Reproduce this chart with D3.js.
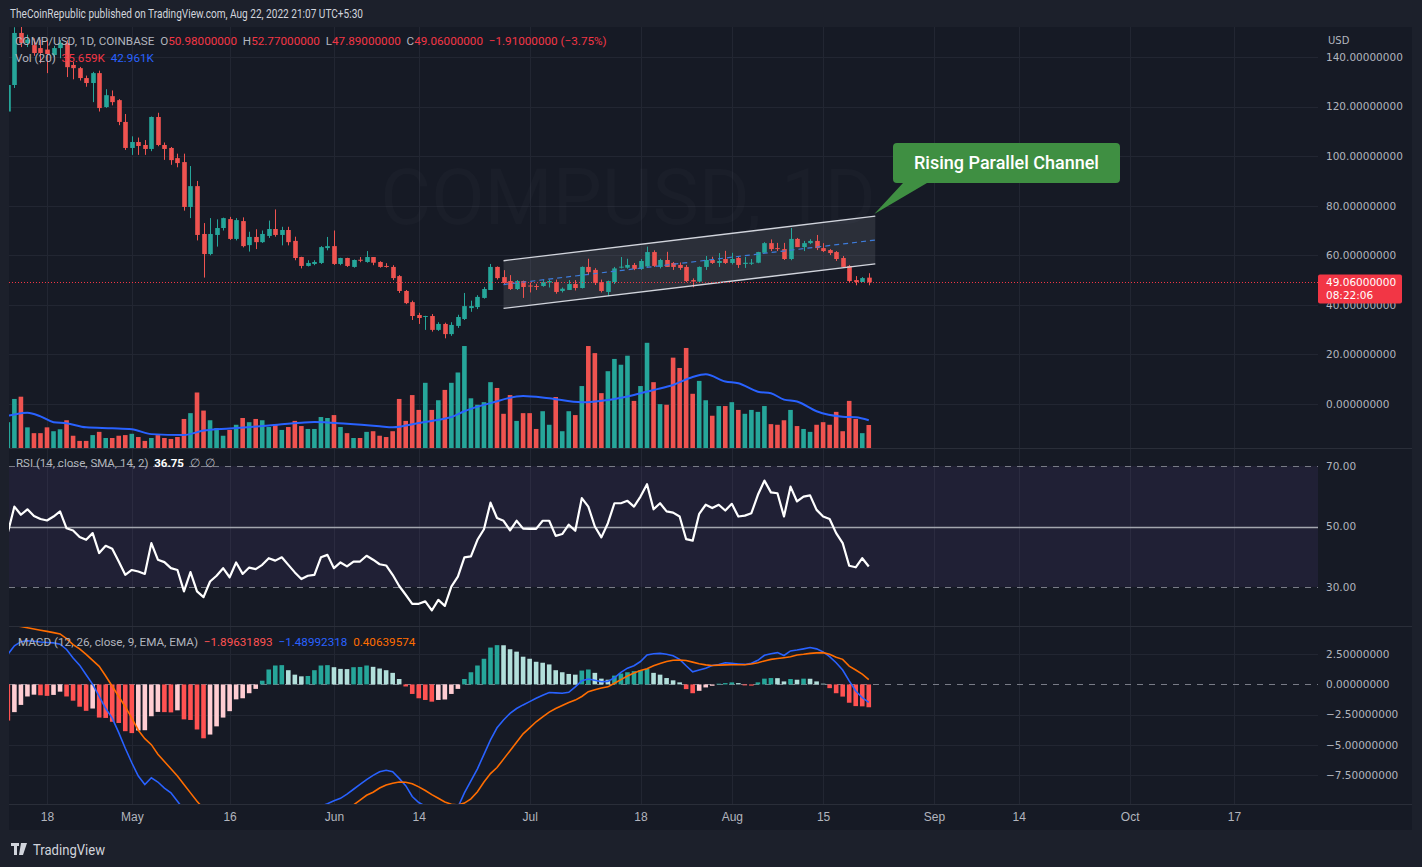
<!DOCTYPE html>
<html><head><meta charset="utf-8"><title>COMP/USD</title>
<script src="https://cdn.jsdelivr.net/npm/d3@7/dist/d3.min.js"></script>
<style>
html,body{margin:0;padding:0;background:#1c202b;overflow:hidden}
svg{display:block}
</style></head><body>
<svg id="chart" width="1422" height="867"></svg>
<script>
// ---------------- DATA ----------------
// daily candles, first = 2022-04-12
const firstDay = "2022-04-12";
const opens = [118,128.7,149.7,145.6,144.8,143.6,143,140.8,143.6,145.6,136.8,135.5,131.5,129.5,133.5,119.8,124.2,122.6,113.8,103.3,105.7,104.5,102.9,115.8,104.5,103.3,99.2,97.6,79.5,87.9,68.6,60.5,68.2,71.0,74.6,66.6,73.8,64.1,67.4,65.3,67.8,70.6,68.2,70.2,65.8,59.3,55.7,56.5,56.9,62.9,63.7,56.5,58.9,55.3,58.2,57.3,59.3,57.3,55.7,55.3,51.6,45.6,41.1,35.9,35.3,35.5,29.9,32.3,28.2,31.5,34.3,38.7,39.1,42.8,46.0,55.3,51.2,49.6,46.4,49.6,47.8,47.6,47.6,49.0,49.2,45.6,46.0,48.4,46.8,55.3,54.1,49.2,45.2,49.2,55.2,55.0,56.1,54.5,55.5,61.3,55.3,58.1,56.9,56.1,55.3,50.0,49.4,55.3,58.1,56.9,58.5,56.9,58.9,56.5,56.6,57.0,61.0,64.9,62.9,62.5,58.5,66.6,63.3,64.9,65.8,62.9,62.1,61.3,58.9,55.7,50.0,49.2,50.98];
const highs = [129.5,152,152.5,149,147.5,147,146.8,144.5,146.8,146.8,138,136,132.5,134,134.5,127,126.5,123,117,108,107.5,106.5,116,117.5,105.5,103.7,101,101,96,90,73,75,74.5,75.2,75.5,75,75.3,69.5,70.5,70,74,78.5,71.5,71.5,67.5,59.4,58,58,63.7,67.4,70,59,59,58.3,59.3,61.7,59.3,57.6,56.8,56,52,46,41.7,36.8,35.6,36.3,33,32.8,33,36,44.8,41.7,43.9,47.2,56.5,55.5,54,52,50,49.8,49,48.5,50,50.2,50.2,47,50,50,55.5,58.6,54.8,50.2,49.8,55.3,59.3,58.6,56.9,58.5,63.5,62,58.6,61.4,57.3,57.1,56.1,50.7,55.5,59.7,59.4,60.9,61.8,61,59.3,59.3,58.5,61.4,65.3,66.4,65,65,71,67,65.8,66.5,68.2,64.9,62.5,61.7,59.7,56.1,51.6,51.2,52.77];
const lows = [117,127.5,144,144,140.5,137.5,133.5,140,139.5,131.9,131,130.5,128,121.8,118,119.5,120.5,112.5,102.5,100.5,100.5,100.5,102,104,98.5,96.5,95.5,78,75,66,51,60,63.5,70,66.2,66,63.2,61.5,62.5,65,67,67.5,64,64,58,54.7,55.5,56,56.5,62,56.1,56,55.3,55,57.2,57,56,55,55,50,44.8,40.3,33.9,32.3,29.9,29.2,29.5,26.5,27.5,30.7,33.9,37.2,38.3,42.5,46,50.2,48.2,46,46,42.8,45,46,47.3,47,44.5,45,46,45.8,46.6,52,48,45,43.5,48.4,54.7,54.6,54,54.1,55.3,55.3,54.7,55.3,54.1,54.1,49.2,47.1,48.8,54.1,56.5,55.3,56.5,56.3,54.9,54.9,56.1,56.8,60.9,61.7,61.7,58.1,58,63.3,61.7,64.5,62.1,61.3,60.1,57.7,54.9,49.2,47.9,49.2,47.89];
const closes = [128.7,149.7,145.6,147,141.6,141.6,141.2,143.6,145.6,135.9,135.5,131.5,129.5,133.5,119.4,124.6,121.8,113.8,103.3,105.7,104.1,102.9,115.8,104.5,102.9,98.4,97.2,79.5,87.9,68.2,60.5,68.6,71.0,75.0,66.6,74.2,63.7,67.4,65.3,68.6,70.6,68.2,70.2,65.3,58.9,55.7,56.9,57.3,63.3,63.7,56.5,58.9,55.7,58.1,58.0,59.3,57.0,55.3,55.3,50.8,45.6,40.7,35.5,34.7,35.5,29.9,32.3,28.2,31.9,35.1,39.5,39.5,43.2,46.4,55.3,50.8,48.8,46.4,49.6,47.2,47.5,47.4,49.2,49.6,45.2,46.5,48.4,46.8,55.3,53.2,48.8,45.6,49.6,54.7,55.4,56.1,54.5,57.7,61.3,55.7,58.1,55.3,55.3,54.9,49.6,49.4,55.3,58.1,56.9,57.7,56.9,58.5,56.1,57.0,57.0,61.3,64.9,62.5,62.5,58.5,66.6,63.3,64.9,65.8,62.9,61.7,60.9,58.5,55.3,49.6,49.2,50.8,49.06];
// volume in thousands
const volumes = [40,76,79.5,32,23,23,32,26,29,43,19,11,11,20,25,15.5,15.5,19,20,22,17,11,15.5,20,15.5,14,17,45,54,86,58,43,31,19,28,36,46.5,40,45,43,32.5,36,28,32.5,42,34,29.5,29.5,48,46.5,51,32.5,23,15.5,15.5,25,26,19,17,26,76,42,82,59,101,59,74,90,101,117,158,77,67,71,102,93,53,82,42,54,54,29.5,57,36,79,26,57,51,96,158,147,85,119,138,129,143,73,96,163,102,68,67,140,124,155,84,104,74,50,65,65,71,59,53,59,56,65,37,36,43,59,34,29.5,25,36,40,36,56,26,73,45,23,35.659];
// 20-period volume MA: [day index, value]
const volMA = [[0,50],[1,52],[3,54.5],[5,49],[7,40],[9,38.3],[12,32],[16,30.5],[19,29],[22,21.5],[27,20.2],[30,27],[34,30.3],[40,34.8],[45,39.3],[47,40.3],[52,37.5],[57,33.7],[59,32],[63,38.7],[65,42],[68,48],[70,57],[74,69.5],[79,80.6],[83,77],[88,70.8],[92,74.4],[96,82.2],[99,89.9],[102,97.7],[105,110],[107,114.2],[110,103],[112,100.3],[115,87.3],[117,84.8],[119,75],[121,72],[124,57],[128,48.5],[130,47.6],[132,42.961]];
const rsi = [48,56.6,53.9,55.7,53.5,52.5,52.0,53.3,55.0,49.4,48.7,46.5,45.6,47.8,41.2,43.6,42.6,38.4,34.0,35.6,35.1,34.3,44.5,39.0,38.2,36.2,35.6,28.5,34.9,28.5,26.6,31.8,33.7,36.2,33.2,38.1,34.3,36.4,35.9,37.3,39.5,38.7,39.8,37.3,34.8,32.6,33.7,34.0,39.8,40.6,36.2,38.1,36.8,38.4,38.4,40.3,39.0,37.5,37.1,34.0,30.3,27.4,24.4,24.4,25.2,22.2,25.7,23.7,30.1,33.4,39.8,40.1,45.6,49.1,57.9,52.8,51.9,48.7,51.9,49.3,49.2,49.2,51.9,51.9,46.9,47.5,50.6,48.6,59.4,56.6,50.0,46.4,51.1,57.7,57.7,58.5,56.6,59.9,64.0,55.7,57.7,55.0,54.6,53.3,45.8,45.3,54.2,57.2,56.1,57.2,55.3,57.5,53.3,53.6,54.4,60.5,65.2,61.3,61.0,53.3,63.2,58.3,59.9,60.3,55.5,53.3,52.5,47.8,44.5,37.0,36.5,39.5,36.75];
const macdLine = [2.5,3.2,3.55,3.62,3.58,3.52,3.48,3.45,3.34,2.9,2.2,1.6,0.8,0.0,-1.0,-2.0,-2.8,-4.0,-5.3,-6.5,-7.6,-8.3,-7.75,-8.1,-8.6,-9.0,-9.7,-10.4,-11.0,-11.6,-12.0,-12.3,-12.5,-12.6,-12.5,-12.4,-12.2,-12.0,-11.8,-11.6,-11.4,-11.2,-11.0,-10.9,-10.8,-10.7,-10.5,-10.3,-10.1,-9.9,-9.65,-9.45,-9.1,-8.7,-8.3,-7.9,-7.55,-7.25,-7.13,-7.25,-7.8,-8.4,-9.3,-9.8,-10.1,-10.6,-11.0,-11.2,-11.0,-10.2,-9.0,-8.0,-7.0,-5.8,-4.6,-3.6,-2.95,-2.4,-2.0,-1.7,-1.43,-1.15,-0.9,-0.67,-0.7,-0.73,-0.65,-0.2,0.3,0.45,0.34,0.22,0.25,0.55,1.0,1.35,1.55,1.9,2.45,2.55,2.58,2.5,2.38,2.08,1.55,1.05,1.2,1.35,1.57,1.65,1.8,1.75,1.7,1.66,1.75,2.0,2.42,2.55,2.64,2.4,2.78,2.85,2.95,3.06,2.95,2.7,2.3,1.8,1.2,0.3,-0.55,-1.1,-1.48992318];
const signalLine = [4.95,4.9,4.8,4.7,4.6,4.5,4.4,4.3,4.19,3.8,3.3,2.95,2.5,2.0,1.5,0.7,-0.15,-1.0,-1.85,-2.8,-3.8,-4.5,-5.0,-5.8,-6.4,-7.0,-7.6,-8.3,-9.0,-9.7,-10.3,-10.8,-11.2,-11.5,-11.7,-11.8,-11.9,-11.9,-11.9,-11.8,-11.7,-11.6,-11.5,-11.3,-11.2,-11.1,-11.0,-10.9,-10.8,-10.6,-10.5,-10.35,-10.2,-10.0,-9.6,-9.2,-8.95,-8.6,-8.35,-8.2,-8.1,-8.12,-8.25,-8.5,-8.8,-9.15,-9.45,-9.75,-9.95,-10.0,-9.85,-9.5,-8.9,-8.1,-7.4,-6.9,-6.2,-5.5,-4.8,-4.1,-3.6,-3.1,-2.7,-2.3,-2.0,-1.75,-1.5,-1.3,-1.0,-0.6,-0.45,-0.3,-0.2,0.1,0.4,0.7,0.95,1.15,1.3,1.55,1.74,1.9,2.0,2.02,1.99,1.85,1.72,1.62,1.57,1.6,1.62,1.63,1.63,1.63,1.7,1.8,1.95,2.08,2.15,2.22,2.3,2.44,2.5,2.58,2.62,2.64,2.5,2.25,2.08,1.52,1.2,0.85,0.40639574];
const histogram = [-3.0,-2.3,-1.7,-1.0,-0.85,-0.9,-0.95,-0.87,-0.6,-1.0,-1.35,-1.85,-2.19,-2.0,-2.75,-2.78,-3.1,-3.2,-3.88,-4.04,-3.82,-3.8,-2.64,-2.28,-2.30,-2.32,-2.15,-2.9,-2.95,-3.74,-4.47,-4.16,-3.48,-2.75,-2.22,-1.24,-1.15,-0.73,-0.37,0.31,1.24,1.57,1.6,1.18,0.81,0.67,0.70,1.18,1.57,1.6,1.43,1.29,1.27,1.43,1.45,1.57,1.46,1.32,1.18,0.96,0.45,-0.17,-0.79,-1.15,-1.29,-1.43,-1.29,-1.25,-0.79,-0.37,0.45,1.01,1.57,2.13,3.06,3.26,3.25,2.92,2.72,2.30,2.13,1.88,1.80,1.66,1.18,1.01,0.87,0.81,1.15,1.24,0.96,0.48,0.39,0.73,0.90,1.01,1.10,1.18,1.29,0.96,0.81,0.53,0.34,0.17,-0.39,-0.73,-0.53,-0.25,-0.11,0.06,0.11,0.17,0.11,-0.08,-0.10,0.17,0.48,0.53,0.52,0.25,0.45,0.39,0.48,0.47,0.25,0.06,-0.31,-0.73,-1.01,-1.52,-1.80,-1.82,-1.89631893];
// rising channel drawing: [date, upper, lower]
const channelDates = ["2022-06-27","2022-08-23"];
const channelUpper = [57.8,75.8];
const channelLower = [38.6,56.5];
const lastPrice = 49.06;
// axes
const timeTickDates = ["2022-04-18","2022-05-01","2022-05-16","2022-06-01","2022-06-14","2022-07-01","2022-07-18","2022-08-01","2022-08-15","2022-09-01","2022-09-14","2022-10-01","2022-10-17"];
const timeTickLabels = ["18","May","16","Jun","14","Jul","18","Aug","15","Sep","14","Oct","17"];
const priceTicks = [0,20,40,60,80,100,120,140];
const rsiTicks = [30,50,70];
const macdTicks = [-7.5,-5,-2.5,0,2.5];

// ---------------- LAYOUT ----------------
const svg = d3.select("#chart");
const L = 9, R = 1318, FR = 1412;
const P = {top:27, bot:448}, RS = {top:449, bot:626}, MC = {top:627, bot:804}, AX = 830;
const C = {bg:"#161a25", grid:"#222632", up:"#26a69a", down:"#ef5350", text:"#b2b5be", sep:"#2a2e39"};

const parse = d3.utcParse("%Y-%m-%d");
const d0 = parse(firstDay);
const dayOf = i => d3.utcDay.offset(d0, i);
const x = d3.scaleUtc().domain([parse("2022-04-18"), parse("2022-10-17")]).range([47, 1234]);
const yP = d3.scaleLinear().domain([0,140]).range([404,57]);
const yV = d3.scaleLinear().domain([0,163]).range([448,342.8]);
const yR = d3.scaleLinear().domain([30,70]).range([586.9,466.1]);
const yM = d3.scaleLinear().domain([-7.5,2.5]).range([774.8,654.3]);
const bw = 4.6;

// background
svg.append("rect").attr("width",1422).attr("height",867).attr("fill","#1c202b");
svg.append("rect").attr("x",L).attr("y",P.top).attr("width",FR-L).attr("height",AX-P.top).attr("fill",C.bg);

const defs = svg.append("defs");
function clip(id, y0, y1){ defs.append("clipPath").attr("id",id).append("rect").attr("x",L).attr("y",y0).attr("width",R-L).attr("height",y1-y0); return `url(#${id})`; }
const cpP = clip("cp", P.top, P.bot), cpR = clip("cr", RS.top, RS.bot), cpM = clip("cm", MC.top, MC.bot);

// grid
const grid = svg.append("g");
timeTickDates.forEach(d=>{
  const gx = Math.round(x(parse(d)))+0.5;
  grid.append("line").attr("x1",gx).attr("x2",gx).attr("y1",P.top).attr("y2",MC.bot).attr("stroke",C.grid);
});
priceTicks.forEach(v=>{ const gy=Math.round(yP(v))+0.5; grid.append("line").attr("x1",L).attr("x2",R).attr("y1",gy).attr("y2",gy).attr("stroke",C.grid); });
macdTicks.filter(v=>v!==0).forEach(v=>{ const gy=Math.round(yM(v))+0.5; grid.append("line").attr("x1",L).attr("x2",R).attr("y1",gy).attr("y2",gy).attr("stroke",C.grid); });

// watermark (very faint)
svg.append("text").attr("x",628).attr("y",224).attr("text-anchor","middle")
  .attr("font-family","Roboto, 'Noto Sans', sans-serif").attr("font-size",78)
  .attr("fill","rgba(255,255,255,0.02)").text("COMPUSD, 1D");

// volume
const gP = svg.append("g").attr("clip-path",cpP);
const idx = d3.range(opens.length);
gP.selectAll("rect.vol").data(idx).join("rect").attr("class","vol")
  .attr("x",i=>x(dayOf(i))-bw/2).attr("width",bw)
  .attr("y",i=>yV(volumes[i])).attr("height",i=>yV(0)-yV(volumes[i]))
  .attr("fill",i=>closes[i]>=opens[i]?C.up:C.down);
gP.append("path").datum(volMA).attr("fill","none").attr("stroke","#2962ff").attr("stroke-width",2)
  .attr("d", d3.line().x(d=>x(dayOf(d[0]))).y(d=>yV(d[1])).curve(d3.curveMonotoneX));

// channel fill
const ch = channelDates.map((d,k)=>({x:x(parse(d)), u:yP(channelUpper[k]), l:yP(channelLower[k])}));
gP.append("path").attr("fill","rgba(120,123,134,0.22)")
  .attr("d",`M${ch[0].x},${ch[0].u}L${ch[1].x},${ch[1].u}L${ch[1].x},${ch[1].l}L${ch[0].x},${ch[0].l}Z`);

// candles
const cg = gP.append("g");
cg.selectAll("line").data(idx).join("line")
  .attr("x1",i=>Math.round(x(dayOf(i)))+0.5).attr("x2",i=>Math.round(x(dayOf(i)))+0.5)
  .attr("y1",i=>yP(highs[i])).attr("y2",i=>yP(lows[i]))
  .attr("stroke",i=>closes[i]>=opens[i]?C.up:C.down).attr("stroke-width",1);
cg.selectAll("rect").data(idx).join("rect")
  .attr("x",i=>Math.round(x(dayOf(i)))+0.5-bw/2).attr("width",bw)
  .attr("y",i=>yP(Math.max(opens[i],closes[i])))
  .attr("height",i=>Math.max(1, Math.abs(yP(opens[i])-yP(closes[i]))))
  .attr("fill",i=>closes[i]>=opens[i]?C.up:C.down);

// channel lines
gP.append("line").attr("x1",ch[0].x).attr("y1",ch[0].u).attr("x2",ch[1].x).attr("y2",ch[1].u).attr("stroke","#d1d4dc").attr("stroke-width",1.3);
gP.append("line").attr("x1",ch[0].x).attr("y1",ch[0].l).attr("x2",ch[1].x).attr("y2",ch[1].l).attr("stroke","#d1d4dc").attr("stroke-width",1.3);
gP.append("line").attr("x1",ch[0].x).attr("y1",(ch[0].u+ch[0].l)/2).attr("x2",ch[1].x).attr("y2",(ch[1].u+ch[1].l)/2)
  .attr("stroke","#3d7bd9").attr("stroke-width",1.2).attr("stroke-dasharray","5,4");

// last price line
gP.append("line").attr("x1",L).attr("x2",R).attr("y1",Math.round(yP(lastPrice))+0.5).attr("y2",Math.round(yP(lastPrice))+0.5)
  .attr("stroke","#f23645").attr("stroke-dasharray","1,2");

// RSI pane
const gR = svg.append("g").attr("clip-path",cpR);
gR.append("rect").attr("x",L).attr("width",R-L).attr("y",yR(70)).attr("height",yR(30)-yR(70)).attr("fill","rgba(126,87,194,0.1)");
[70,30].forEach(v=>gR.append("line").attr("x1",L).attr("x2",R).attr("y1",Math.round(yR(v))+0.5).attr("y2",Math.round(yR(v))+0.5)
  .attr("stroke","#787b86").attr("stroke-dasharray","6,6"));
gR.append("line").attr("x1",L).attr("x2",R).attr("y1",Math.round(yR(50))+0.5).attr("y2",Math.round(yR(50))+0.5).attr("stroke","#a3a6af").attr("stroke-width",1.5);
gR.append("path").datum(idx).attr("fill","none").attr("stroke","#ffffff").attr("stroke-width",2.2).attr("stroke-linejoin","round")
  .attr("d", d3.line().x(i=>x(dayOf(i))).y(i=>yR(rsi[i])));

// MACD pane
const gM = svg.append("g").attr("clip-path",cpM);
gM.append("line").attr("x1",L).attr("x2",R).attr("y1",Math.round(yM(0))+0.5).attr("y2",Math.round(yM(0))+0.5)
  .attr("stroke","#787b86").attr("stroke-dasharray","6,6");
const hColor = i => { const v=histogram[i], p = i>0?histogram[i-1]:v+1;
  return v>=0 ? (v>=p?"#26a69a":"#b2dfdb") : (v<=p?"#ff5252":"#ffcdd2"); };
gM.selectAll("rect").data(idx).join("rect")
  .attr("x",i=>x(dayOf(i))-bw/2).attr("width",bw)
  .attr("y",i=>Math.min(yM(0),yM(histogram[i]))).attr("height",i=>Math.abs(yM(histogram[i])-yM(0)))
  .attr("fill",hColor);
gM.append("path").datum(idx).attr("fill","none").attr("stroke","#2962ff").attr("stroke-width",1.6)
  .attr("d", d3.line().x(i=>x(dayOf(i))).y(i=>yM(macdLine[i])));
gM.append("path").datum(idx).attr("fill","none").attr("stroke","#ff6d00").attr("stroke-width",1.6)
  .attr("d", d3.line().x(i=>x(dayOf(i))).y(i=>yM(signalLine[i])));

// separators
[P.bot+0.5, RS.bot+0.5, MC.bot+0.5].forEach(y=>svg.append("line").attr("x1",L).attr("x2",FR).attr("y1",y).attr("y2",y).attr("stroke",C.sep));

// axes
function styleAxis(g, font, size){ g.select(".domain").remove(); g.selectAll("text").attr("fill",C.text).attr("font-family",font).attr("font-size",size); }
const axFont = "'DejaVu Sans', sans-serif";
styleAxis(svg.append("g").attr("transform",`translate(${R},0)`).call(d3.axisRight(yP).tickValues(priceTicks).tickFormat(d=>d.toFixed(8)).tickSize(0).tickPadding(8)), axFont, 10.5);
styleAxis(svg.append("g").attr("transform",`translate(${R},0)`).call(d3.axisRight(yR).tickValues(rsiTicks).tickFormat(d=>d.toFixed(2)).tickSize(0).tickPadding(8)), axFont, 10.5);
styleAxis(svg.append("g").attr("transform",`translate(${R},0)`).call(d3.axisRight(yM).tickValues(macdTicks).tickFormat(d=>(d<0?"−":"")+Math.abs(d).toFixed(8)).tickSize(0).tickPadding(8)), axFont, 10.5);
styleAxis(svg.append("g").attr("transform",`translate(0,${MC.bot})`).call(d3.axisBottom(x).tickValues(timeTickDates.map(parse)).tickFormat((d,i)=>timeTickLabels[i]).tickSize(0).tickPadding(8)), "'Liberation Sans', Arial, sans-serif", 12);
svg.append("text").attr("x",1328).attr("y",44).attr("fill",C.text).attr("font-family",axFont).attr("font-size",10).text("USD");

// last price badge
const ly = yP(lastPrice);
svg.append("rect").attr("x",R).attr("y",ly-8).attr("width",84).attr("height",29).attr("rx",2).attr("fill","#f23645");
svg.append("text").attr("x",R+8).attr("y",ly+4).attr("fill","#fff").attr("font-family",axFont).attr("font-size",10.5).text(lastPrice.toFixed(8));
svg.append("text").attr("x",R+8).attr("y",ly+17).attr("fill","#fff").attr("font-family",axFont).attr("font-size",10.5).text("08:22:06");

// header texts
const tf = "Roboto, 'Noto Sans', sans-serif";
svg.append("text").attr("x",10).attr("y",18).attr("fill","#d1d4dc").attr("font-family",tf).attr("font-size",13)
  .attr("textLength",353).attr("lengthAdjust","spacingAndGlyphs").text("TheCoinRepublic published on TradingView.com, Aug 22, 2022 21:07 UTC+5:30");
function legend(xp, yp, parts, size){
  const t = svg.append("text").attr("x",xp).attr("y",yp).attr("font-family",tf).attr("font-size",size).attr("xml:space","preserve");
  parts.forEach(p=>t.append("tspan").attr("fill",p[1]).attr("font-weight",p[2]||400).text(p[0]));
}
const red="#f23645", gr="#b2b5be";
legend(15,45,[["COMP/USD, 1D, COINBASE  ",gr],["O",gr],["50.98000000  ",red],["H",gr],["52.77000000  ",red],["L",gr],["47.89000000  ",red],["C",gr],["49.06000000  −1.91000000 (−3.75%)",red]],11.7);
legend(15,62,[["Vol (20)  ",gr],["35.659K  ",red],["42.961K","#2962ff"]],11.7);
legend(16,467,[["RSI (14, close, SMA, 14, 2)  ",gr],["36.75",  "#ffffff", 700],["  ∅  ∅",gr]],11.5);
legend(18,646,[["MACD (12, 26, close, 9, EMA, EMA)  ",gr],["−1.89631893  ","#ff5252"],["−1.48992318  ","#2962ff"],["0.40639574","#ff6d00"]],11.7);

// callout
const cx0=893, cy0=143, cw=227, chh=40;
svg.append("path").attr("fill","#3f8f42")
  .attr("d",`M${cx0+4},${cy0}H${cx0+cw-4}Q${cx0+cw},${cy0} ${cx0+cw},${cy0+4}V${cy0+chh-4}Q${cx0+cw},${cy0+chh} ${cx0+cw-4},${cy0+chh}H${cx0+34}L${ch[1].x-1},${ch[1].u-2}L${cx0+10},${cy0+chh}H${cx0+4}Q${cx0},${cy0+chh} ${cx0},${cy0+chh-4}V${cy0+4}Q${cx0},${cy0} ${cx0+4},${cy0}Z`);
svg.append("text").attr("x",cx0+cw/2).attr("y",cy0+26).attr("text-anchor","middle").attr("fill","#ffffff")
  .attr("font-family",tf).attr("font-size",18).attr("font-weight",500).text("Rising Parallel Channel");

// footer logo
const lg = svg.append("g").attr("fill","#d1d4dc");
lg.append("rect").attr("x",11).attr("y",843).attr("width",8).attr("height",3);
lg.append("rect").attr("x",14).attr("y",843).attr("width",3).attr("height",12);
lg.append("path").attr("d","M21,843H27L23,855H19Z");
svg.append("text").attr("x",33).attr("y",855).attr("fill","#d1d4dc").attr("font-family",tf).attr("font-size",14)
  .attr("textLength",72).attr("lengthAdjust","spacingAndGlyphs").text("TradingView");
</script>
</body></html>
